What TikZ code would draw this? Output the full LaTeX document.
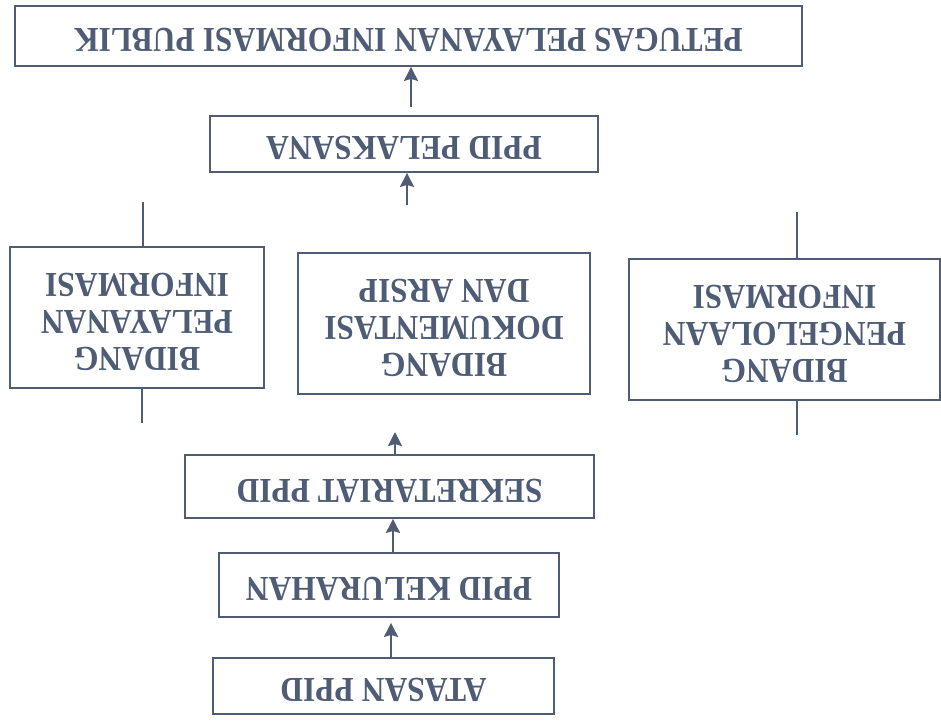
\documentclass[tikz,border=0pt]{standalone}
\usepackage{fontspec}
\setmainfont{Liberation Serif}
\usetikzlibrary{arrows.meta}
\definecolor{ink}{RGB}{78,92,118}
\newcommand\flipt[1]{\rotatebox{180}{\scalebox{0.9}[1]{\begin{tabular}{@{}c@{}}#1\end{tabular}}}}
\begin{document}
\begin{tikzpicture}[x=1pt,y=-1pt,
  box/.style={draw=ink,line width=1.8pt,inner sep=0pt,text=ink,
    font=\fontsize{35}{37}\selectfont\bfseries},
  conn/.style={draw=ink,line width=2.2pt},
  arr/.style={conn,-{Stealth[length=14pt,width=14pt,inset=2pt]}}]
\useasboundingbox (0,0) rectangle (941,725);
\fill[white] (0,0) rectangle (941,725);
% boxes
\node[box,minimum width=787pt,minimum height=60pt] (top) at (408.5,36) {\flipt{PETUGAS PELAYANAN INFORMASI PUBLIK}};
\node[box,minimum width=388pt,minimum height=56pt] (pel) at (404,144) {\flipt{PPID PELAKSANA}};
\node[box,minimum width=254pt,minimum height=141pt] (left) at (137,317.5) {\flipt{BIDANG\\PELAYANAN\\INFORMASI}};
\node[box,minimum width=292pt,minimum height=141pt] (mid) at (444,323.5) {\flipt{BIDANG\\DOKUMENTASI\\DAN ARSIP}};
\node[box,minimum width=311pt,minimum height=141pt] (right) at (784.5,329.5) {\flipt{BIDANG\\PENGELOLAAN\\INFORMASI}};
\node[box,minimum width=409pt,minimum height=63pt] (sek) at (389.5,486.5) {\flipt{SEKRETARIAT PPID}};
\node[box,minimum width=340pt,minimum height=64pt] (kel) at (389,585) {\flipt{PPID KELURAHAN}};
\node[box,minimum width=341pt,minimum height=56pt] (ata) at (383.5,686) {\flipt{ATASAN PPID}};
% free ends
\coordinate (x1) at (411,0);
\coordinate (a2t) at (407,205);
\coordinate (lt) at (143,202);
\coordinate (lb) at (142,423);
\coordinate (rt) at (797,212);
\coordinate (rb) at (797,435);
\coordinate (a3h) at (395,432);
\coordinate (x4) at (393,0);
\coordinate (x5) at (391,0);
% connectors
\draw[arr] ([yshift=8pt]pel.north -| x1) -- (top.south -| x1);
\draw[arr] (a2t) -- (pel.south -| a2t);
\draw[conn] (lt) -- (left.north -| lt);
\draw[conn] (left.south -| lb) -- (lb);
\draw[conn] (rt) -- (right.north -| rt);
\draw[conn] (right.south -| rb) -- (rb);
\draw[arr] (sek.north -| a3h) -- (a3h);
\draw[arr] (kel.north -| x4) -- (sek.south -| x4);
\draw[arr] (ata.north -| x5) -- ([yshift=-5pt]kel.south -| x5);
\end{tikzpicture}
\end{document}
